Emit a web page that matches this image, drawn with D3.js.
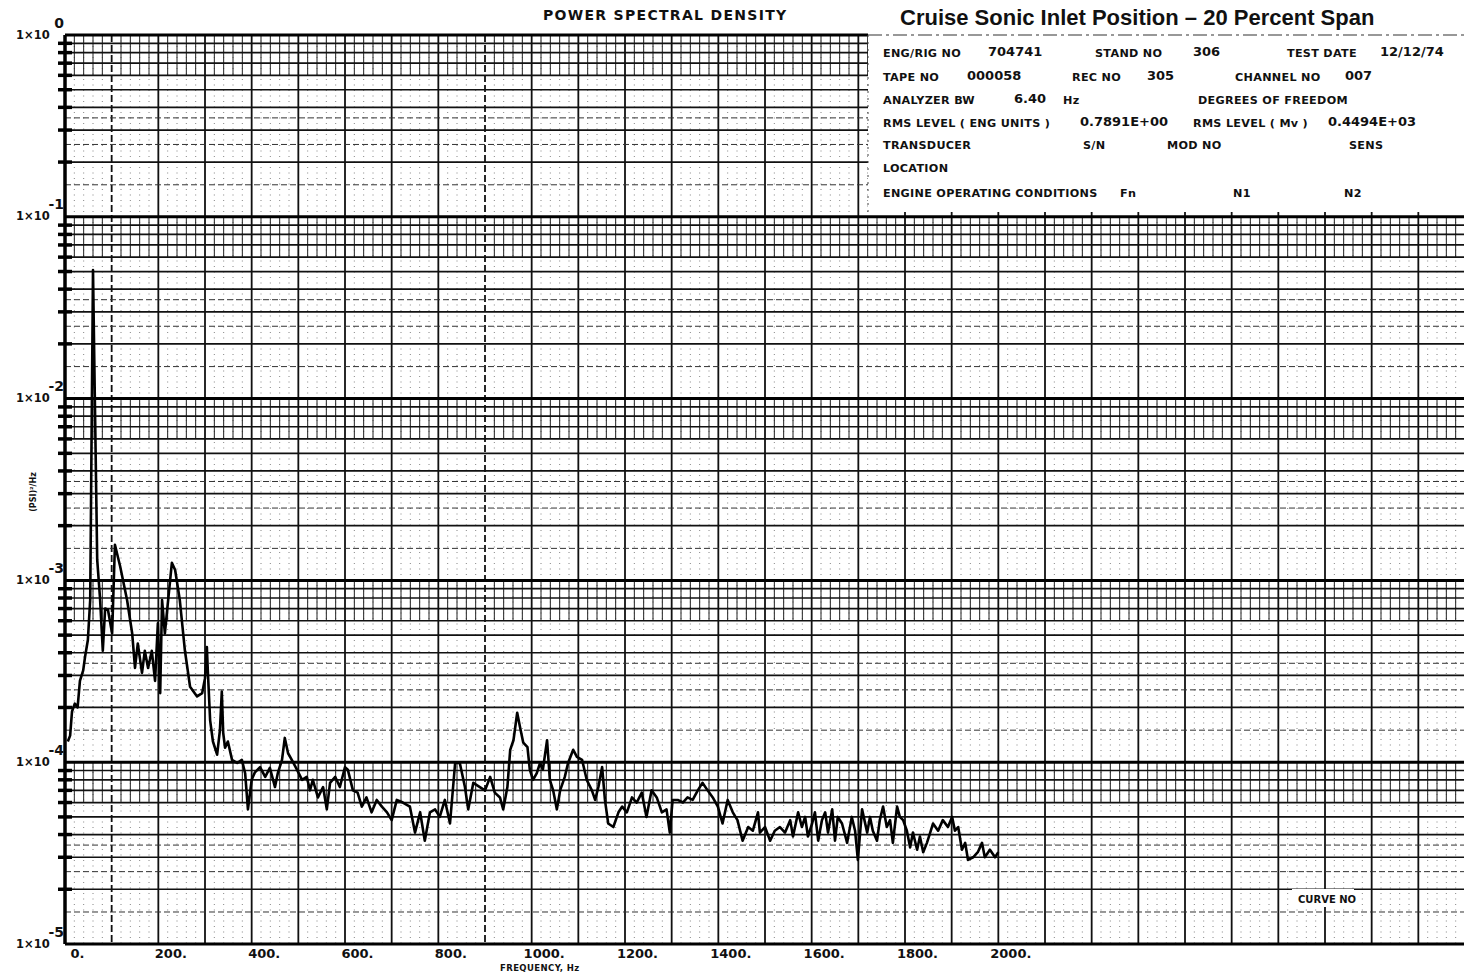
<!DOCTYPE html>
<html>
<head>
<meta charset="utf-8">
<script src="https://cdn.jsdelivr.net/npm/d3@7"></script>
<style>
  body { margin: 0; background: #fff; }
  text { font-family: "DejaVu Sans", sans-serif; font-weight: bold; fill: #111; }
</style>
</head>
<body>
<div id="chart"></div>
<script>
// Spectrum (Hz, (PSI)^2/Hz)
const freqHz = [
  6, 11, 15, 21, 27, 32, 39, 43, 49, 54,
  60, 64, 69, 75, 81, 86, 92, 101, 107, 118,
  133, 144, 150, 156, 165, 171, 178, 186, 193, 199,
  204, 208, 214, 219, 229, 236, 246, 257, 268, 283,
  294, 300, 304, 306, 311, 317, 326, 332, 336, 339,
  343, 349, 358, 369, 379, 386, 392, 400, 407, 418,
  429, 439, 450, 456, 465, 471, 478, 486, 497, 508,
  518, 525, 531, 542, 553, 561, 568, 579, 589, 600,
  606, 617, 627, 636, 646, 657, 668, 679, 690, 700,
  711, 724, 739, 750, 761, 771, 782, 793, 803, 814,
  825, 836, 846, 857, 864, 875, 889, 900, 911, 921,
  932, 939, 948, 954, 961, 969, 975, 982, 991, 996,
  1003, 1011, 1018, 1024, 1033, 1039, 1046, 1054, 1061, 1071,
  1078, 1089, 1097, 1108, 1118, 1129, 1136, 1143, 1151, 1157,
  1164, 1175, 1186, 1194, 1204, 1215, 1225, 1236, 1246, 1257,
  1268, 1279, 1289, 1296, 1302, 1313, 1324, 1334, 1345, 1356,
  1366, 1377, 1388, 1399, 1409, 1420, 1431, 1441, 1452, 1464,
  1474, 1485, 1489, 1500, 1511, 1521, 1532, 1543, 1554, 1560,
  1571, 1579, 1586, 1592, 1601, 1607, 1614, 1622, 1629, 1635,
  1644, 1650, 1656, 1665, 1676, 1686, 1693, 1699, 1708, 1719,
  1725, 1731, 1740, 1746, 1753, 1761, 1768, 1774, 1783, 1789,
  1796, 1804, 1811, 1817, 1826, 1832, 1839, 1847, 1854, 1860,
  1871, 1881, 1892, 1901, 1907, 1914, 1922, 1929, 1935, 1946,
  1956, 1965, 1971, 1982, 1993, 2000
];
const psd = [
  1.3e-4, 1.4e-4, 1.9e-4, 2.1e-4, 2.0e-4, 2.8e-4, 3.2e-4, 3.8e-4, 4.7e-4, 7.8e-4,
  5.1e-2, 9.8e-3, 1.3e-3, 8.0e-4, 4.1e-4, 7.0e-4, 6.9e-4, 5.1e-4, 1.57e-3, 1.2e-3,
  7.8e-4, 5.1e-4, 3.3e-4, 4.5e-4, 3.1e-4, 4.1e-4, 3.3e-4, 4.1e-4, 2.8e-4, 5.8e-4,
  2.4e-4, 7.8e-4, 5.1e-4, 6.9e-4, 1.25e-3, 1.14e-3, 7.8e-4, 4.1e-4, 2.6e-4, 2.3e-4,
  2.4e-4, 2.9e-4, 4.3e-4, 3.2e-4, 1.7e-4, 1.3e-4, 1.1e-4, 1.5e-4, 2.45e-4, 1.45e-4,
  1.2e-4, 1.3e-4, 1.03e-4, 9.9e-5, 1.03e-4, 8.7e-5, 5.5e-5, 8.0e-5, 8.8e-5, 9.4e-5,
  8.3e-5, 9.3e-5, 7.3e-5, 8.7e-5, 1.03e-4, 1.36e-4, 1.12e-4, 1.03e-4, 9.1e-5, 8.0e-5,
  8.3e-5, 7.0e-5, 8.0e-5, 6.4e-5, 7.3e-5, 5.5e-5, 7.7e-5, 8.3e-5, 7.3e-5, 9.4e-5,
  9.1e-5, 7.0e-5, 6.8e-5, 5.7e-5, 6.4e-5, 5.3e-5, 6.2e-5, 5.7e-5, 5.3e-5, 4.8e-5,
  6.2e-5, 6.0e-5, 5.7e-5, 4.1e-5, 5.3e-5, 3.7e-5, 5.3e-5, 5.5e-5, 5.0e-5, 6.2e-5,
  4.6e-5, 9.9e-5, 9.9e-5, 7.3e-5, 5.5e-5, 7.7e-5, 7.3e-5, 7.0e-5, 8.3e-5, 6.8e-5,
  6.4e-5, 5.5e-5, 7.3e-5, 1.17e-4, 1.32e-4, 1.87e-4, 1.56e-4, 1.28e-4, 1.21e-4, 9.1e-5,
  8.0e-5, 8.7e-5, 9.9e-5, 9.1e-5, 1.32e-4, 8.0e-5, 7.0e-5, 5.5e-5, 7.0e-5, 8.3e-5,
  9.9e-5, 1.17e-4, 1.07e-4, 1.03e-4, 8.0e-5, 7.0e-5, 6.2e-5, 7.3e-5, 9.4e-5, 6.2e-5,
  4.6e-5, 4.4e-5, 5.3e-5, 5.7e-5, 5.3e-5, 6.4e-5, 6.0e-5, 6.8e-5, 5.0e-5, 7.0e-5,
  6.4e-5, 5.3e-5, 5.5e-5, 4.1e-5, 6.2e-5, 6.2e-5, 6.0e-5, 6.4e-5, 6.2e-5, 7.0e-5,
  7.7e-5, 7.0e-5, 6.4e-5, 5.7e-5, 4.6e-5, 6.2e-5, 5.3e-5, 4.8e-5, 3.7e-5, 4.4e-5,
  4.2e-5, 5.3e-5, 4.1e-5, 4.4e-5, 3.7e-5, 4.2e-5, 4.4e-5, 4.1e-5, 4.8e-5, 3.9e-5,
  5.3e-5, 4.4e-5, 5.0e-5, 3.9e-5, 4.6e-5, 5.3e-5, 3.7e-5, 4.8e-5, 5.3e-5, 4.1e-5,
  5.5e-5, 3.7e-5, 5.0e-5, 4.6e-5, 3.6e-5, 5.0e-5, 4.2e-5, 2.9e-5, 5.5e-5, 4.1e-5,
  5.0e-5, 4.2e-5, 3.7e-5, 4.8e-5, 5.7e-5, 4.4e-5, 4.8e-5, 3.6e-5, 5.7e-5, 5.0e-5,
  4.8e-5, 4.2e-5, 3.4e-5, 4.1e-5, 3.3e-5, 3.9e-5, 3.2e-5, 3.6e-5, 4.1e-5, 4.6e-5,
  4.2e-5, 4.8e-5, 4.4e-5, 5.0e-5, 4.2e-5, 4.4e-5, 3.3e-5, 3.6e-5, 2.9e-5, 3.0e-5,
  3.2e-5, 3.6e-5, 3.0e-5, 3.3e-5, 3.0e-5, 3.2e-5
];

// Axis ticks
const xTicks = [0, 200, 400, 600, 800, 1000, 1200, 1400, 1600, 1800, 2000];
const decadeExps = [0, -1, -2, -3, -4, -5];
const mantissas = [2, 3, 4, 5, 6, 7, 8, 9];
const halfMantissas = [1.5, 2.5, 3.5];

const W = 1464, H = 978;

const svg = d3.select("#chart").append("svg")
    .attr("width", W)
    .attr("height", H);

svg.append("rect").attr("width", W).attr("height", H).attr("fill", "#fff");

const x = d3.scaleLinear().domain([0, 3000]).range([65, 1465]);
const y = d3.scaleLog().domain([1e-5, 1]).range([944, 35]);

const yTop = y(1), yBottom = y(1e-5);
const grid = svg.append("g");
const fine = d3.range(0, 3001, 20).filter(f => f % 100 !== 0);

// fine 20 Hz dotted verticals
grid.selectAll(".v20")
    .data(fine)
  .enter().append("line")
    .attr("x1", d => x(d)).attr("x2", d => x(d))
    .attr("y1", yTop).attr("y2", yBottom)
    .attr("stroke", "#666")
    .attr("stroke-width", 0.8)
    .attr("stroke-dasharray", "1,4.5");

// solid comb in the crowded upper part of every decade
decadeExps.slice(1).forEach(e => {
  grid.selectAll(null)
      .data(fine)
    .enter().append("line")
      .attr("x1", d => x(d)).attr("x2", d => x(d))
      .attr("y1", y(Math.pow(10, e + 1)))
      .attr("y2", y(6 * Math.pow(10, e)))
      .attr("stroke", "#222")
      .attr("stroke-width", 1);
});

// 100 Hz verticals
grid.selectAll(".v100")
    .data(d3.range(100, 3001, 100))
  .enter().append("line")
    .attr("x1", d => x(d)).attr("x2", d => x(d))
    .attr("y1", yTop).attr("y2", yBottom)
    .attr("stroke", "#111")
    .attr("stroke-width", 1.8)
    .attr("stroke-dasharray", d => (d === 100 || d === 900) ? "7,3" : null);

// horizontal lines
decadeExps.slice(1).forEach(e => {
  const base = Math.pow(10, e);
  grid.selectAll(null)
      .data(mantissas)
    .enter().append("line")
      .attr("x1", x(0)).attr("x2", W)
      .attr("y1", m => y(m * base)).attr("y2", m => y(m * base))
      .attr("stroke", "#111")
      .attr("stroke-width", 1.7);
  grid.selectAll(null)
      .data(halfMantissas)
    .enter().append("line")
      .attr("x1", x(0)).attr("x2", W)
      .attr("y1", m => y(m * base)).attr("y2", m => y(m * base))
      .attr("stroke", "#333")
      .attr("stroke-width", 1)
      .attr("stroke-dasharray", "6,3");
});

// decade lines
grid.selectAll(".dec")
    .data(decadeExps)
  .enter().append("line")
    .attr("x1", x(0)).attr("x2", W)
    .attr("y1", e => y(Math.pow(10, e))).attr("y2", e => y(Math.pow(10, e)))
    .attr("stroke", "#000")
    .attr("stroke-width", 3);

// left axis with heavy cross ticks
grid.append("line")
    .attr("x1", x(0)).attr("x2", x(0))
    .attr("y1", yTop).attr("y2", yBottom)
    .attr("stroke", "#000").attr("stroke-width", 3.5);

const tickVals = [];
decadeExps.slice(1).forEach(e => mantissas.forEach(m => tickVals.push(m * Math.pow(10, e))));
grid.selectAll(".ytk")
    .data(tickVals)
  .enter().append("line")
    .attr("x1", x(0) - 7).attr("x2", x(0) + 7)
    .attr("y1", d => y(d)).attr("y2", d => y(d))
    .attr("stroke", "#000").attr("stroke-width", 3.5);

// header block covering the grid
svg.append("rect")
    .attr("x", 868).attr("y", 36)
    .attr("width", W - 868).attr("height", 176)
    .attr("fill", "#fff");
svg.append("line")
    .attr("x1", 868).attr("x2", W).attr("y1", 35).attr("y2", 35)
    .attr("stroke", "#fff").attr("stroke-width", 4);
svg.append("line")
    .attr("x1", 868).attr("x2", W).attr("y1", 35).attr("y2", 35)
    .attr("stroke", "#333").attr("stroke-width", 1.2)
    .attr("stroke-dasharray", "14,4,3,4");
svg.append("line")
    .attr("x1", 868).attr("x2", 868).attr("y1", 35).attr("y2", 212)
    .attr("stroke", "#444").attr("stroke-width", 1)
    .attr("stroke-dasharray", "2,5");

// the spectrum
const line = d3.line()
    .x(i => x(freqHz[i]))
    .y(i => y(psd[i]));

svg.append("path")
    .attr("d", line(d3.range(freqHz.length)))
    .attr("fill", "none")
    .attr("stroke", "#000")
    .attr("stroke-width", 2.6)
    .attr("stroke-linejoin", "round");

// x axis labels
const xAxis = svg.append("g")
    .attr("transform", `translate(12,${yBottom})`)
    .call(d3.axisBottom(x).tickValues(xTicks).tickFormat(d => d + ".").tickSize(0).tickPadding(5));
xAxis.select(".domain").remove();
xAxis.selectAll("text")
    .style("font-family", "'DejaVu Sans', sans-serif")
    .style("font-weight", "bold")
    .style("font-size", "13px")
    .style("fill", "#111");

svg.append("text")
    .attr("x", 500).attr("y", 971)
    .style("font-size", "8.5px")
    .style("letter-spacing", "0.4px")
    .text("FREQUENCY, Hz");

// y axis labels  1x10^e
const yAxis = svg.append("g")
    .attr("transform", `translate(${x(0)},0)`)
    .call(d3.axisLeft(y).tickValues(decadeExps.map(e => Math.pow(10, e))).tickFormat(() => "").tickSize(0));
yAxis.select(".domain").remove();
yAxis.selectAll(".tick text").remove();
yAxis.selectAll(".tick").each(function(d) {
  const e = Math.round(Math.log10(d));
  const g = d3.select(this);
  g.append("text")
      .attr("x", -49).attr("y", 3)
      .attr("text-anchor", "start")
      .style("font-size", "11.5px")
      .text("1×10");
  g.append("text")
      .attr("x", -1).attr("y", -8)
      .attr("text-anchor", "end")
      .style("font-size", "14px")
      .text(e);
});

svg.append("text")
    .attr("transform", "translate(36,492) rotate(-90)")
    .attr("text-anchor", "middle")
    .style("font-size", "8px")
    .text("(PSI)²/Hz");

// titles
svg.append("text")
    .attr("x", 543).attr("y", 20)
    .style("font-size", "14px")
    .style("letter-spacing", "1.3px")
    .text("POWER SPECTRAL DENSITY");

svg.append("text")
    .attr("x", 900).attr("y", 25)
    .style("font-family", "'Liberation Sans', Arial, sans-serif")
    .style("font-size", "22px")
    .text("Cruise Sonic Inlet Position – 20 Percent Span");

// header fields
function field(xp, yp, s) {
  svg.append("text")
      .attr("x", xp).attr("y", yp)
      .style("font-size", "11.2px")
      .style("letter-spacing", "0.3px")
      .text(s);
}
function num(xp, yp, s) {
  svg.append("text")
      .attr("x", xp).attr("y", yp)
      .style("font-size", "13px")
      .text(s);
}
field(883, 57, "ENG/RIG NO");   num(988, 56, "704741");
field(1095, 57, "STAND NO");    num(1193, 56, "306");
field(1287, 57, "TEST DATE");   num(1380, 56, "12/12/74");
field(883, 81, "TAPE NO");      num(967, 80, "000058");
field(1072, 81, "REC NO");      num(1147, 80, "305");
field(1235, 81, "CHANNEL NO");  num(1345, 80, "007");
field(883, 104, "ANALYZER BW"); num(1014, 103, "6.40");
field(1063, 104, "Hz");         field(1198, 104, "DEGREES OF FREEDOM");
field(883, 127, "RMS LEVEL ( ENG UNITS )"); num(1080, 126, "0.7891E+00");
field(1193, 127, "RMS LEVEL ( Mv )");       num(1328, 126, "0.4494E+03");
field(883, 149, "TRANSDUCER");  field(1083, 149, "S/N");
field(1167, 149, "MOD NO");     field(1349, 149, "SENS");
field(883, 172, "LOCATION");
field(883, 197, "ENGINE OPERATING CONDITIONS"); field(1120, 197, "Fn");
field(1233, 197, "N1");         field(1344, 197, "N2");

// curve number tag
svg.append("rect")
    .attr("x", 1292).attr("y", 889)
    .attr("width", 62).attr("height", 18)
    .attr("fill", "#fff");
svg.append("text")
    .attr("x", 1298).attr("y", 903)
    .style("font-size", "10px")
    .text("CURVE NO");
</script>
</body>
</html>
